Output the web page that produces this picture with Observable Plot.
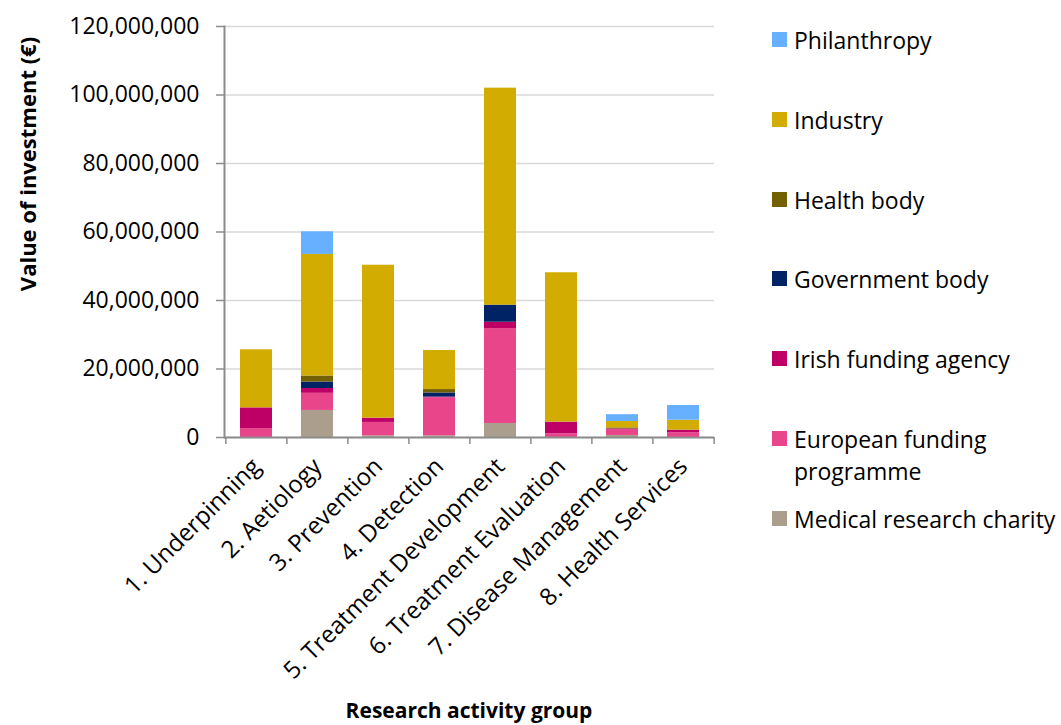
<!DOCTYPE html>
<html>
<head>
<meta charset="utf-8">
<script src="https://cdn.jsdelivr.net/npm/d3@7"></script>
<script src="https://cdn.jsdelivr.net/npm/@observablehq/plot@0.6"></script>
<style>
  html, body { margin: 0; padding: 0; background: #fff; }
  #wrap { position: relative; width: 1061px; height: 725px; font-family: "Open Sans", sans-serif; color: #000; overflow: hidden; }
  #chart { position: absolute; left: 0; top: 0; }
  .ytitle { position: absolute; left: 27px; top: 164px; transform: translate(-50%, -50%) rotate(-90deg); font-weight: bold; font-size: 22px; white-space: nowrap; }
  .xtitle { position: absolute; left: 469px; top: 710px; transform: translate(-50%, -50%); font-weight: bold; font-size: 21px; line-height: 26px; white-space: nowrap; }
  .leg { position: absolute; left: 772px; display: flex; align-items: flex-start; font-size: 23px; line-height: 32px; }
  .leg .sw { width: 15px; height: 15px; margin-top: 8px; margin-right: 7px; flex: none; }
  .leg .tx { width: 268px; }
</style>
</head>
<body>
<div id="wrap">
  <div id="chart"></div>
  <div class="ytitle">Value of investment (€)</div>
  <div class="xtitle">Research activity group</div>
</div>
<script>
const categories = ["1. Underpinning", "2. Aetiology", "3. Prevention", "4. Detection", "5. Treatment Development", "6. Treatment Evaluation", "7. Disease Management", "8. Health Services"];
// series, bottom to top of the stack
const seriesNames = ["Medical research charity", "European funding programme", "Irish funding agency", "Government body", "Health body", "Industry", "Philanthropy"];
const seriesColors = ["#ac9e8c", "#e8458a", "#be0066", "#002366", "#736000", "#d2ac00", "#66b0ff"];
// values in euro
const medicalCharity   = [0,        7900000, 500000,  500000,   4100000,  0,        600000,  0];
const europeanFunding  = [2600000,  5000000, 3900000, 11100000, 27700000, 1100000,  1600000, 1400000];
const irishAgency      = [6050000,  1400000, 1250000, 200000,   1850000,  3400000,  300000,  750000];
const governmentBody   = [0,        1900000, 0,       1200000,  5000000,  0,        0,       0];
const healthBody       = [0,        1750000, 0,       1000000,  0,        0,        300000,  0];
const industry         = [16950000, 35500000,44650000,11400000, 63350000, 43600000, 1860000, 2900000];
const philanthropy     = [0,        6600000, 0,       0,        0,        0,        2000000, 4300000];
const yTicks = [0, 20000000, 40000000, 60000000, 80000000, 100000000, 120000000];

const seriesValues = [medicalCharity, europeanFunding, irishAgency, governmentBody, healthBody, industry, philanthropy];
const data = [];
seriesNames.forEach((s, si) => categories.forEach((c, ci) => data.push({cat: c, series: s, value: seriesValues[si][ci]})));

const W = 1061, H = 725, mL = 224, mR = 347, mT = 26, mB = 288;
const step = (W - mL - mR) / categories.length;

const chart = Plot.plot({
  width: W, height: H,
  marginLeft: mL, marginRight: mR, marginTop: mT, marginBottom: mB,
  style: {fontFamily: "Open Sans", fontSize: "23px", color: "#000", background: "#fff", overflow: "visible"},
  x: {domain: categories, paddingInner: 0.48, paddingOuter: 0.24, label: null},
  y: {domain: [0, 120000000], label: null},
  color: {domain: seriesNames, range: seriesColors},
  marks: [
    Plot.gridY(yTicks, {stroke: "#d9d9d9", strokeOpacity: 1, strokeWidth: 1.5}),
    Plot.barY(data, {x: "cat", y: "value", fill: "series", order: seriesNames}),
    Plot.axisY(yTicks, {tickSize: 8, tickPadding: 17, tickFormat: d3.format(","), stroke: "#8c8c8c", strokeWidth: 1.5, label: null, fill: "#000"}),
    Plot.frame({anchor: "left", stroke: "#8c8c8c", strokeWidth: 2}),
    Plot.ruleY([0], {stroke: "#8c8c8c", strokeWidth: 2}),
    Plot.axisX({tickSize: 7, tickFormat: null, dx: -step / 2, stroke: "#8c8c8c", strokeWidth: 1.5, label: null}),
    Plot.axisX([categories[categories.length - 1]], {tickSize: 7, tickFormat: null, dx: step / 2, stroke: "#8c8c8c", strokeWidth: 1.5, label: null}),
    Plot.axisX({tickSize: 0, tickPadding: 25, tickRotate: -45, fontSize: 24, label: null, fill: "#000"})
  ]
});
document.getElementById("chart").appendChild(chart);

// legend (top to bottom: reverse of stack order)
const wrap = document.getElementById("wrap");
const legendOrder = seriesNames.slice().reverse();
legendOrder.forEach((name, i) => {
  const color = seriesColors[seriesNames.indexOf(name)];
  const item = document.createElement("div");
  item.className = "leg";
  item.style.top = (24 + i * 79.8) + "px";
  const sw = document.createElement("div");
  sw.className = "sw";
  sw.style.background = color;
  const tx = document.createElement("div");
  tx.className = "tx";
  tx.textContent = name;
  item.appendChild(sw);
  item.appendChild(tx);
  wrap.appendChild(item);
});
</script>
</body>
</html>
